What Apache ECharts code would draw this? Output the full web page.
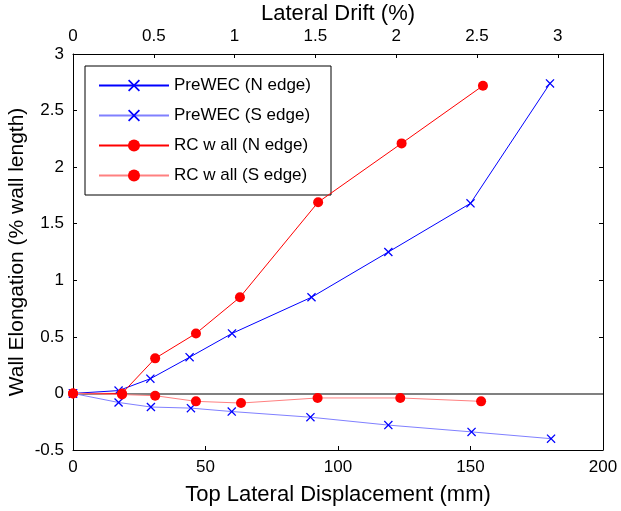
<!DOCTYPE html>
<html>
<head>
<meta charset="utf-8">
<script src="https://cdn.jsdelivr.net/npm/echarts@6/dist/echarts.min.js"></script>
<style>html,body{margin:0;padding:0;background:#fff}#c{width:621px;height:511px}</style>
</head>
<body>
<div id="c"></div>
<script>
const seriesNames = ['PreWEC (N edge)', 'PreWEC (S edge)', 'RC w all (N edge)', 'RC w all (S edge)'];
const prewecNX = [0, 17.2, 29.2, 44, 60, 90, 119, 150, 180];
const prewecNY = [0, 0.025, 0.13, 0.32, 0.53, 0.85, 1.25, 1.68, 2.74];
const prewecSX = [0, 17.2, 29.4, 44.5, 59.9, 89.6, 119, 150.4, 180.4];
const prewecSY = [0, -0.08, -0.12, -0.13, -0.16, -0.21, -0.28, -0.34, -0.40];
const rcNX = [0, 18.5, 31, 46.4, 63, 92.5, 124, 154.7];
const rcNY = [0, 0, 0.31, 0.53, 0.85, 1.69, 2.21, 2.72];
const rcSX = [0, 18.5, 31, 46.4, 63.4, 92.3, 123.5, 154];
const rcSY = [0, -0.01, -0.02, -0.07, -0.085, -0.04, -0.04, -0.07];
const dispMin = 0, dispMax = 200, dispInterval = 50;
const driftMin = 0, driftMax = 3.28, driftInterval = 0.5;
const elongMin = -0.5, elongMax = 3, elongInterval = 0.5;

const pair = (xs, ys) => xs.map((x, i) => [x, ys[i]]);
const xSym = 'path://M0,1L1,0L5,4L9,0L10,1L6,5L10,9L9,10L5,6L1,10L0,9L4,5Z';
const font = 'Liberation Sans, Arial, sans-serif';
const axisCommon = {
  axisLine: {show: true, onZero: false, lineStyle: {color: '#000', width: 1}},
  axisTick: {show: true, inside: true, length: 4, lineStyle: {color: '#000'}},
  splitLine: {show: false},
  axisLabel: {color: '#000', fontSize: 17, fontFamily: font, margin: 9},
  nameTextStyle: {color: '#000', fontSize: 22, fontFamily: font},
  nameMoveOverlap: false
};
const chart = echarts.init(document.getElementById('c'));
chart.setOption({
  animation: false,
  backgroundColor: '#fff',
  grid: {left: 73, right: 18, top: 54, bottom: 61, containLabel: false, outerBoundsMode: 'none'},
  legend: {
    orient: 'vertical', left: 85, top: 66, width: 247,
    padding: [11, 13, 11, 13], itemGap: 13, itemWidth: 70, itemHeight: 15,
    itemTextGap: 7,
    borderColor: '#000', borderWidth: 1, backgroundColor: '#fff',
    textStyle: {color: '#000', fontSize: 17, lineHeight: 15, fontFamily: font, width: 144},
    data: seriesNames
  },
  xAxis: [
    Object.assign({}, axisCommon, {type: 'value', position: 'bottom', min: dispMin, max: dispMax, interval: dispInterval,
      name: 'Top Lateral Displacement (mm)', nameLocation: 'middle', nameGap: 34}),
    Object.assign({}, axisCommon, {type: 'value', position: 'top', min: driftMin, max: driftMax, interval: driftInterval,
      name: 'Lateral Drift (%)', nameLocation: 'middle', nameGap: 29,
      axisLabel: Object.assign({}, axisCommon.axisLabel, {showMaxLabel: false})})
  ],
  yAxis: [
    Object.assign({}, axisCommon, {type: 'value', position: 'left', min: elongMin, max: elongMax, interval: elongInterval,
      name: 'Wall Elongation (% wall length)', nameLocation: 'middle', nameGap: 45,
      nameTextStyle: {color: '#000', fontSize: 21, fontFamily: font}}),
    Object.assign({}, axisCommon, {type: 'value', position: 'right', min: elongMin, max: elongMax, interval: elongInterval,
      axisLabel: {show: false}})
  ],
  series: [
    {name: seriesNames[0], type: 'line', data: pair(prewecNX, prewecNY), symbol: xSym, symbolSize: 9,
      itemStyle: {color: '#0000ff'}, lineStyle: {color: '#0000ff', width: 1}, z: 3,
      markLine: {silent: true, symbol: 'none', label: {show: false}, animation: false,
        lineStyle: {color: '#808080', width: 2, type: 'solid'}, data: [{yAxis: 0}], z: 1}},
    {name: seriesNames[1], type: 'line', data: pair(prewecSX, prewecSY), symbol: xSym, symbolSize: 9,
      itemStyle: {color: '#0000ff'}, lineStyle: {color: '#8080ff', width: 1}, z: 3},
    {name: seriesNames[2], type: 'line', data: pair(rcNX, rcNY), symbol: 'circle', symbolSize: 10,
      itemStyle: {color: '#ff0000'}, lineStyle: {color: '#ff0000', width: 1}, z: 4},
    {name: seriesNames[3], type: 'line', data: pair(rcSX, rcSY), symbol: 'circle', symbolSize: 10,
      itemStyle: {color: '#ff0000'}, lineStyle: {color: '#ff8080', width: 1}, z: 4}
  ]
});
</script>
</body>
</html>
